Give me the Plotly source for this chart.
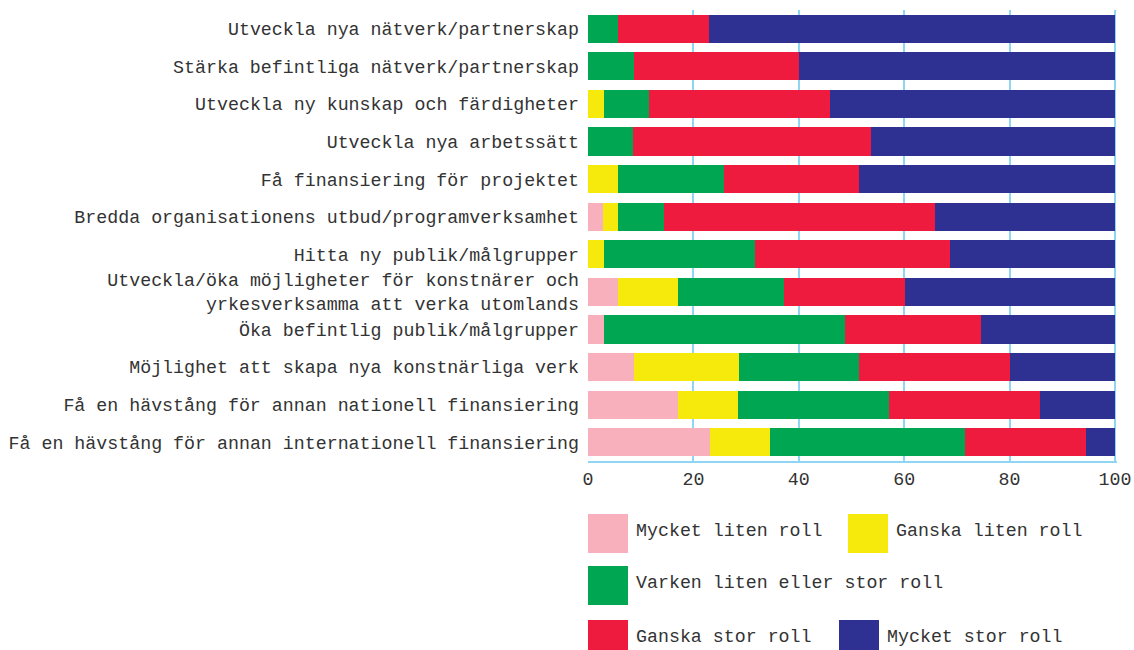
import plotly.graph_objects as go

categories = [
    "Utveckla nya nätverk/partnerskap",
    "Stärka befintliga nätverk/partnerskap",
    "Utveckla ny kunskap och färdigheter",
    "Utveckla nya arbetssätt",
    "Få finansiering för projektet",
    "Bredda organisationens utbud/programverksamhet",
    "Hitta ny publik/målgrupper",
    "Utveckla/öka möjligheter för konstnärer och<br>yrkesverksamma att verka utomlands",
    "Öka befintlig publik/målgrupper",
    "Möjlighet att skapa nya konstnärliga verk",
    "Få en hävstång för annan nationell finansiering",
    "Få en hävstång för annan internationell finansiering",
]

series_names = [
    "Mycket liten roll",
    "Ganska liten roll",
    "Varken liten eller stor roll",
    "Ganska stor roll",
    "Mycket stor roll",
]

mycket_liten = [0, 0, 0, 0, 0, 2.8, 0, 5.7, 3.1, 8.8, 17.1, 23.1]
ganska_liten = [0, 0, 3.1, 0, 5.7, 2.9, 3.1, 11.4, 0, 19.9, 11.4, 11.4]
varken = [5.7, 8.8, 8.4, 8.5, 20.2, 8.7, 28.5, 20.1, 45.6, 22.8, 28.7, 37.0]
ganska_stor = [17.2, 31.3, 34.4, 45.3, 25.6, 51.4, 37.1, 22.9, 25.8, 28.6, 28.5, 23.0]
mycket_stor = [77.1, 59.9, 54.1, 46.2, 48.5, 34.2, 31.3, 39.9, 25.5, 19.9, 14.3, 5.5]

series_values = [mycket_liten, ganska_liten, varken, ganska_stor, mycket_stor]
colors = ["#f7b0bc", "#f5ea0c", "#00a651", "#ee1b3f", "#2e3192"]

x_ticks = [0, 20, 40, 60, 80, 100]

FONT = "Liberation Mono"
FS = 18.3
TXT = "#333333"
GRID = "#8fd6f2"

W, H = 1134, 650
L, R, T, B = 588, 17, 10, 189

fig = go.Figure()
for name, vals, col in zip(series_names, series_values, colors):
    fig.add_trace(go.Bar(
        y=categories, x=vals, name=name, orientation="h",
        marker=dict(color=col, line=dict(width=0)),
        showlegend=False,
    ))

fig.update_layout(
    width=W, height=H,
    barmode="stack", bargap=0.25,
    margin=dict(l=L, r=R, t=T, b=B, autoexpand=False),
    plot_bgcolor="white", paper_bgcolor="white",
    font=dict(family=FONT, size=FS, color=TXT),
    xaxis=dict(
        range=[0, 100.4], tickvals=x_ticks, showgrid=True, gridcolor=GRID, gridwidth=2,
        zeroline=False, showline=True, linecolor=GRID, linewidth=2,
        tickfont=dict(family=FONT, size=FS, color=TXT), ticks="",
    ),
    yaxis=dict(
        autorange="reversed", showgrid=False, zeroline=False, showline=False,
        tickfont=dict(family=FONT, size=FS, color=TXT), ticks="", ticklabelstandoff=8,
    ),
)

# custom legend (large swatches) in paper coordinates
pw = W - L - R
ph = H - T - B

def px2paper(px, py):
    return (px - L) / pw, (H - B - py) / ph

legend_pos = [
    (588, 514), (848, 514),
    (588, 566),
    (588, 620), (839, 620),
]
shapes = []
annotations = []
for (sx, sy), name, col in zip(legend_pos, series_names, colors):
    x0, y0 = px2paper(sx, sy)
    x1, y1 = px2paper(sx + 40, sy + 39)
    shapes.append(dict(type="rect", xref="paper", yref="paper", x0=x0, x1=x1, y0=y1, y1=y0,
                       fillcolor=col, line=dict(width=0)))
    tx, ty = px2paper(sx + 46, sy + 17)
    annotations.append(dict(xref="paper", yref="paper", x=tx, y=ty, text=name, showarrow=False,
                            xanchor="left", yanchor="middle",
                            font=dict(family=FONT, size=FS, color=TXT)))

fig.update_layout(shapes=shapes, annotations=annotations)

fig.write_html(
    "out.html",
    config={"displayModeBar": False},
    post_script="document.body.style.margin='0';document.body.style.overflow='hidden';",
)
